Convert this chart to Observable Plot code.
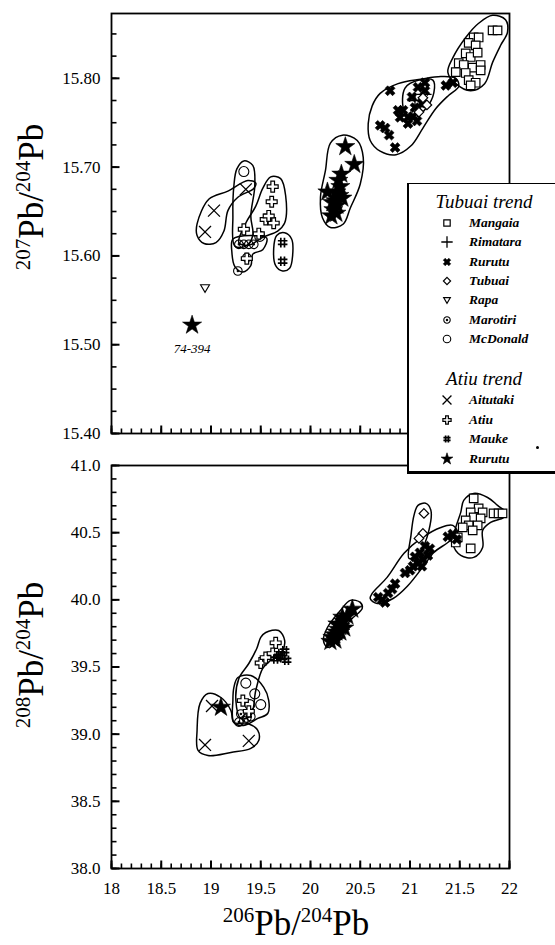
<!DOCTYPE html>
<html><head><meta charset="utf-8">
<script src="https://cdn.jsdelivr.net/npm/d3@7"></script>
<script src="https://cdn.jsdelivr.net/npm/@observablehq/plot@0.6"></script>
<style>
body{margin:0;background:#fff;}
#wrap{position:relative;width:555px;height:945px;overflow:hidden;font-family:"Liberation Serif","Times New Roman",serif;color:#000;}
#top,#bot{position:absolute;left:0;}
#top{top:0}
#bot{top:445px}
.title{position:absolute;font-size:35px;white-space:nowrap;line-height:1;}
.title sup{font-size:21px;vertical-align:0;position:relative;top:-13px;}
.ytitle{transform:translate(-50%,-50%) rotate(-90deg);}
.xtitle{transform:translate(-50%,0);}
#legend{position:absolute;left:407px;top:183px;width:180px;height:287px;background:#fff;border-top:1.5px solid #000;border-left:2.5px solid #000;border-bottom:3px solid #000;z-index:5;}
#legend .hdr{position:absolute;left:0;width:150px;text-align:center;font-style:italic;font-size:19px;line-height:1;}
#legend .row{position:absolute;left:0;height:18px;}
#legend .row svg{position:absolute;left:28px;top:0;}
#legend .row span{position:absolute;left:60px;top:1px;font-style:italic;font-weight:bold;font-size:13.5px;line-height:16px;white-space:nowrap;}
</style></head>
<body>
<div id="wrap">
  <div id="top"></div>
  <div id="bot"></div>
  <div class="title ytitle" style="left:31px;top:197px;"><sup>207</sup>Pb/<sup>204</sup>Pb</div>
  <div class="title ytitle" style="left:31px;top:655px;"><sup>208</sup>Pb/<sup>204</sup>Pb</div>
  <div class="title xtitle" style="left:296px;top:906px;"><sup>206</sup>Pb/<sup>204</sup>Pb</div>
  <div id="legend"></div>
</div>
<script>
// ---------- axis ticks ----------
const xTicks = [18, 18.5, 19, 19.5, 20, 20.5, 21, 21.5, 22];
const topYTicks = [15.40, 15.50, 15.60, 15.70, 15.80];
const botYTicks = [38.0, 38.5, 39.0, 39.5, 40.0, 40.5, 41.0];

// ---------- top panel (207Pb/204Pb) data: [206Pb/204Pb, 207Pb/204Pb] ----------
const topMangaia = [[21.83,15.854],[21.88,15.854],[21.64,15.846],[21.69,15.846],[21.59,15.840],[21.66,15.837],[21.56,15.828],[21.61,15.824],[21.68,15.829],[21.49,15.817],[21.54,15.815],[21.63,15.812],[21.71,15.815],[21.46,15.807],[21.56,15.806],[21.71,15.809],[21.59,15.798],[21.66,15.795],[21.61,15.792]];
const topRimatara = [[21.05,15.775],[21.14,15.782],[21.10,15.768]];
const topRurutuX = [[20.80,15.786],[20.70,15.747],[20.75,15.744],[20.79,15.736],[20.85,15.722],[20.88,15.764],[20.93,15.764],[20.98,15.756],[21.02,15.779],[21.08,15.790],[21.15,15.795],[21.05,15.767],[21.12,15.772],[20.98,15.749],[21.36,15.792],[21.43,15.795],[20.90,15.756],[21.15,15.786],[21.03,15.757],[21.07,15.752]];
const topTubuai = [[21.13,15.778],[21.17,15.770],[21.09,15.762]];
const topRapa = [[18.94,15.564]];
const topMarotiri = [[19.28,15.613],[19.33,15.613],[19.38,15.613],[19.43,15.613],[19.27,15.583],[19.36,15.598]];
const topMcDonald = [[19.33,15.695],[19.49,15.622]];
const topAitutaki = [[19.03,15.651],[18.94,15.627],[19.35,15.675]];
const topAtiu = [[19.62,15.678],[19.61,15.661],[19.55,15.641],[19.63,15.637],[19.58,15.645],[19.33,15.630],[19.48,15.625],[19.36,15.597]];
const topMauke = [[19.72,15.615],[19.72,15.594]];
const topRurutuStar = [[20.35,15.723],[20.44,15.703],[20.31,15.692],[20.28,15.685],[20.30,15.678],[20.26,15.672],[20.29,15.668],[20.25,15.662],[20.27,15.657],[20.23,15.652],[20.26,15.648],[20.21,15.645],[20.17,15.672],[20.32,15.665],[20.22,15.660],[18.81,15.522]];
const topNotes = [{x:18.81, y:15.522, label:"74-394"}];

// top outlines
const outTopMangaia = [[21.69,15.862],[21.56,15.846],[21.43,15.823],[21.38,15.807],[21.46,15.794],[21.61,15.786],[21.75,15.794],[21.83,15.818],[21.91,15.837],[21.98,15.852],[21.96,15.866],[21.83,15.871]];
const outTopRurutu = [[20.58,15.749],[20.62,15.769],[20.70,15.783],[20.88,15.794],[21.11,15.799],[21.31,15.802],[21.46,15.800],[21.49,15.791],[21.39,15.781],[21.26,15.766],[21.13,15.744],[21.01,15.724],[20.86,15.714],[20.70,15.718],[20.60,15.730]];
const outTopTubuai = [[20.95,15.789],[21.09,15.798],[21.23,15.798],[21.24,15.784],[21.16,15.766],[21.03,15.755],[20.94,15.764]];
const outTopStar = [[20.20,15.727],[20.32,15.736],[20.47,15.730],[20.53,15.711],[20.50,15.681],[20.40,15.654],[20.33,15.636],[20.20,15.632],[20.12,15.643],[20.10,15.666],[20.15,15.696]];
const outTopAitutaki = [[18.86,15.636],[18.98,15.664],[19.17,15.673],[19.37,15.685],[19.45,15.682],[19.43,15.676],[19.27,15.666],[19.17,15.651],[19.13,15.628],[19.05,15.615],[18.93,15.614],[18.86,15.623]];
const outTopMcDonald = [[19.26,15.698],[19.33,15.707],[19.42,15.702],[19.44,15.679],[19.40,15.645],[19.42,15.623],[19.35,15.611],[19.24,15.611],[19.22,15.645],[19.23,15.679]];
const outTopMarotiri = [[19.22,15.619],[19.40,15.623],[19.56,15.620],[19.52,15.607],[19.42,15.602],[19.40,15.589],[19.32,15.582],[19.24,15.588],[19.21,15.604]];
const outTopAtiu = [[19.60,15.689],[19.70,15.687],[19.75,15.668],[19.74,15.637],[19.67,15.628],[19.52,15.621],[19.38,15.612],[19.28,15.615],[19.35,15.637],[19.45,15.656],[19.52,15.676]];
const outTopMauke = [[19.66,15.623],[19.74,15.626],[19.81,15.619],[19.82,15.600],[19.79,15.586],[19.72,15.583],[19.65,15.589],[19.63,15.608]];

// ---------- bottom panel (208Pb/204Pb) data ----------
const botMangaia = [[21.64,40.755],[21.69,40.681],[21.61,40.651],[21.73,40.651],[21.64,40.614],[21.56,40.591],[21.71,40.606],[21.59,40.554],[21.68,40.554],[21.63,40.517],[21.53,40.539],[21.48,40.465],[21.84,40.643],[21.89,40.643],[21.93,40.643],[21.61,40.383],[21.46,40.427]];
const botRimatara = [];
const botRurutuX = [[21.38,40.47],[21.43,40.49],[21.47,40.45],[21.18,40.33],[21.13,40.30],[21.08,40.27],[21.05,40.32],[21.00,40.22],[20.95,40.20],[21.10,40.35],[21.15,40.40],[21.20,40.38],[21.03,40.25],[20.78,40.05],[20.82,40.08],[20.72,40.00],[20.68,40.02],[20.85,40.12],[20.75,39.98],[21.12,40.25]];
const botTubuai = [[21.14,40.643],[21.13,40.494],[21.09,40.457]];
const botRapa = [];
const botMarotiri = [[19.30,39.15],[19.36,39.12],[19.33,39.10],[19.40,39.13],[19.28,39.09]];
const botMcDonald = [[19.35,39.38],[19.44,39.30],[19.50,39.22],[19.39,39.22]];
const botAitutaki = [[19.01,39.21],[18.94,38.92],[19.38,38.95]];
const botAtiu = [[19.65,39.68],[19.50,39.53],[19.55,39.57],[19.62,39.60],[19.32,39.25],[19.38,39.17]];
const botMauke = [[19.70,39.60],[19.74,39.62],[19.72,39.57],[19.68,39.58],[19.76,39.55],[19.65,39.56]];
const botRurutuStar = [[20.42,39.93],[20.37,39.88],[20.33,39.84],[20.30,39.80],[20.28,39.78],[20.26,39.76],[20.24,39.74],[20.22,39.72],[20.30,39.76],[20.27,39.82],[20.34,39.79],[20.20,39.69],[20.25,39.70],[20.32,39.87],[19.10,39.20]];

// bottom outlines
const outBotMangaia = [[21.54,40.740],[21.64,40.792],[21.78,40.762],[21.88,40.703],[21.96,40.651],[21.94,40.614],[21.81,40.576],[21.73,40.517],[21.73,40.390],[21.64,40.316],[21.51,40.331],[21.43,40.420],[21.46,40.539],[21.51,40.651]];
const outBotRurutu = [[20.62,40.048],[20.77,40.167],[20.94,40.346],[21.11,40.457],[21.31,40.539],[21.43,40.554],[21.48,40.494],[21.38,40.427],[21.24,40.353],[21.14,40.256],[20.98,40.107],[20.83,40.010],[20.67,39.973],[20.60,40.010]];
const outBotTubuai = [[21.08,40.703],[21.16,40.718],[21.21,40.666],[21.19,40.517],[21.11,40.368],[20.99,40.308],[21.01,40.480],[21.04,40.629]];
const outBotStar = [[20.40,39.996],[20.50,39.981],[20.52,39.936],[20.40,39.847],[20.27,39.698],[20.17,39.646],[20.13,39.698],[20.17,39.794],[20.30,39.921]];
const outBotAtiu = [[19.55,39.757],[19.68,39.772],[19.74,39.698],[19.71,39.608],[19.60,39.549],[19.52,39.489],[19.45,39.325],[19.40,39.139],[19.30,39.117],[19.25,39.251],[19.28,39.415],[19.38,39.526],[19.46,39.638],[19.50,39.720]];
const outBotCircles = [[19.27,39.422],[19.40,39.437],[19.53,39.348],[19.58,39.251],[19.57,39.154],[19.47,39.117],[19.33,39.065],[19.23,39.087],[19.22,39.251],[19.23,39.348]];
const outBotAitutaki = [[18.97,39.303],[19.10,39.273],[19.20,39.176],[19.23,39.087],[19.37,39.080],[19.47,39.028],[19.48,38.953],[19.40,38.894],[19.20,38.864],[18.97,38.841],[18.87,38.879],[18.86,39.028],[18.89,39.229]];

// ---------- legend ----------
const tubuaiTrend = ["Mangaia","Rimatara","Rurutu","Tubuai","Rapa","Marotiri","McDonald"];
const atiuTrend = ["Aitutaki","Atiu","Mauke","Rurutu"];

// ---------- custom symbols ----------
const boldX = {draw(ctx, size){
  const r = Math.sqrt(size/Math.PI)*1.05, w = r*0.34, c = Math.SQRT1_2;
  const pts = [[-w,-r],[w,-r],[w,-w],[r,-w],[r,w],[w,w],[w,r],[-w,r],[-w,w],[-r,w],[-r,-w],[-w,-w]];
  pts.forEach(([x,y],i)=>{const X=(x-y)*c, Y=(x+y)*c; i?ctx.lineTo(X,Y):ctx.moveTo(X,Y);});
  ctx.closePath();
}};
const triDown = {draw(ctx, size){
  const r = Math.sqrt(size/Math.PI);
  ctx.moveTo(-r,-r*0.7); ctx.lineTo(r,-r*0.7); ctx.lineTo(0,r*1.0); ctx.closePath();
}};
const hash = {draw(ctx, size){
  const r = Math.sqrt(size/Math.PI), a = r*0.38;
  ctx.moveTo(-a,-r); ctx.lineTo(-a,r); ctx.moveTo(a,-r); ctx.lineTo(a,r);
  ctx.moveTo(-r,-a); ctx.lineTo(r,-a); ctx.moveTo(-r,a); ctx.lineTo(r,a);
}};
const dotCircle = {draw(ctx, size){
  const r = Math.sqrt(size/Math.PI);
  ctx.moveTo(r,0); ctx.arc(0,0,r,0,2*Math.PI);
  ctx.moveTo(0.7,0); ctx.arc(0,0,0.7,0,2*Math.PI);
}};
// inward tick marks: length equals the dot radius
const tickUp = {draw(ctx, size){ const l = Math.sqrt(size/Math.PI); ctx.moveTo(0,0); ctx.lineTo(0,-l); }};
const tickRight = {draw(ctx, size){ const l = Math.sqrt(size/Math.PI); ctx.moveTo(0,0); ctx.lineTo(l,0); }};
const d3types = {square:d3.symbolSquare, plus:d3.symbolPlus, diamond2:d3.symbolDiamond2, circle:d3.symbolCircle, times:d3.symbolTimes, cross:d3.symbolCross, star:d3.symbolStar};

const style = {
  Mangaia:   {symbol:"square",  r:4.8, fill:"white", stroke:"black", sw:1.2},
  Rimatara:  {symbol:"plus",    r:5.0, fill:"none",  stroke:"black", sw:1.3},
  RurutuX:   {symbol:boldX,     r:5.0, fill:"black", stroke:"black", sw:0.6},
  Tubuai:    {symbol:"diamond2",r:4.3, fill:"white", stroke:"black", sw:1.2},
  Rapa:      {symbol:triDown,   r:4.5, fill:"white", stroke:"black", sw:1.1},
  Marotiri:  {symbol:dotCircle, r:4.3, fill:"none",  stroke:"black", sw:1.1},
  McDonald:  {symbol:"circle",  r:5.0, fill:"none",  stroke:"black", sw:1.1},
  Aitutaki:  {symbol:"times",   r:5.5, fill:"none",  stroke:"black", sw:1.3},
  Atiu:      {symbol:"cross",   r:4.6, fill:"white", stroke:"black", sw:1.2},
  Mauke:     {symbol:hash,      r:4.8, fill:"none",  stroke:"black", sw:1.7},
  RurutuStar:{symbol:"star",    r:6.0, fill:"black", stroke:"black", sw:0.6}
};
const legendKeys = ["Mangaia","Rimatara","RurutuX","Tubuai","Rapa","Marotiri","McDonald","Aitutaki","Atiu","Mauke","RurutuStar"];

const topSeries = [["Mangaia",topMangaia],["Rimatara",topRimatara],["RurutuX",topRurutuX],["Tubuai",topTubuai],["Rapa",topRapa],["Marotiri",topMarotiri],["McDonald",topMcDonald],["Aitutaki",topAitutaki],["Atiu",topAtiu],["Mauke",topMauke],["RurutuStar",topRurutuStar]];
const botSeries = [["Mangaia",botMangaia],["Rimatara",botRimatara],["RurutuX",botRurutuX],["Tubuai",botTubuai],["Rapa",botRapa],["Marotiri",botMarotiri],["McDonald",botMcDonald],["Aitutaki",botAitutaki],["Atiu",botAtiu],["Mauke",botMauke],["RurutuStar",botRurutuStar]];
const topOutlines = [outTopMangaia,outTopRurutu,outTopTubuai,outTopStar,outTopAitutaki,outTopMcDonald,outTopMarotiri,outTopAtiu,outTopMauke];
const botOutlines = [outBotMangaia,outBotRurutu,outBotTubuai,outBotStar,outBotAtiu,outBotCircles,outBotAitutaki];

const W = 555, ML = 111, MR = 46;
const xDomain = [18, 22];
const xMinor = d3.range(18, 22.001, 0.1);

function panel({height, marginTop, marginBottom, yDomain, yMajor, yMinor, yFmt, showX, series, outlines, notes}) {
  const y0 = yDomain[0], x0 = xDomain[0];
  const marks = [
    ...outlines.map(o => Plot.line(o, {x: d => d[0], y: d => d[1], curve: "catmull-rom-closed", stroke: "black", strokeWidth: 1.5})),
    ...series.map(([k, data]) => {
      const s = style[k];
      return Plot.dot(data, {x: d => d[0], y: d => d[1], symbol: s.symbol, r: s.r, fill: s.fill, stroke: s.stroke, strokeWidth: s.sw});
    }),
    Plot.dot(xTicks, {x: d => d, y: y0, symbol: tickUp, r: 8, stroke: "black", fill: "none", strokeWidth: 2}),
    Plot.dot(xMinor, {x: d => d, y: y0, symbol: tickUp, r: 5, stroke: "black", fill: "none", strokeWidth: 1.6}),
    Plot.dot(yMajor, {x: x0, y: d => d, symbol: tickRight, r: 8, stroke: "black", fill: "none", strokeWidth: 2}),
    Plot.dot(yMinor, {x: x0, y: d => d, symbol: tickRight, r: 5, stroke: "black", fill: "none", strokeWidth: 1.6}),
    Plot.frame({stroke: "black", strokeWidth: 1.8}),
    Plot.axisY(yMajor, {tickSize: 0, tickPadding: 11, tickFormat: yFmt, label: null, fontSize: 17})
  ];
  if (notes) marks.push(Plot.text(notes, {x: "x", y: "y", text: "label", dy: 24, fontStyle: "italic", fontSize: 13}));
  if (showX) marks.push(Plot.axisX(xTicks, {tickSize: 0, tickPadding: 13, tickFormat: d => String(d), label: null, fontSize: 17}));
  return Plot.plot({
    width: W, height, marginTop, marginBottom, marginLeft: ML, marginRight: MR,
    x: {domain: xDomain, axis: showX ? undefined : null},
    y: {domain: yDomain},
    style: {fontFamily: '"Liberation Serif", "Times New Roman", serif', color: "black", background: "white", overflow: "visible"},
    marks
  });
}

document.getElementById("top").append(panel({
  height: 445, marginTop: 13, marginBottom: 12, yDomain: [15.40, 15.873],
  yMajor: topYTicks, yMinor: d3.range(15.40, 15.873, 0.025), yFmt: d3.format(".2f"),
  showX: false, series: topSeries, outlines: topOutlines, notes: topNotes
}));
document.getElementById("bot").append(panel({
  height: 500, marginTop: 20, marginBottom: 77, yDomain: [38, 41],
  yMajor: botYTicks, yMinor: d3.range(38, 41.001, 0.1), yFmt: d3.format(".1f"),
  showX: true, series: botSeries, outlines: botOutlines
}));

// legend
const lg = document.getElementById("legend");
function hdr(text, top){ const d = document.createElement("div"); d.className = "hdr"; d.style.top = top + "px"; d.textContent = text; lg.append(d); }
function row(key, label, top){
  const s = style[key];
  const type = typeof s.symbol === "string" ? d3types[s.symbol] : s.symbol;
  const rr = s.r * (key === "RurutuStar" ? 0.62 : 0.75);
  const path = d3.symbol(type, Math.PI * rr * rr)();
  const d = document.createElement("div"); d.className = "row"; d.style.top = top + "px";
  d.innerHTML = `<svg width="20" height="18" viewBox="-10 -9 20 18"><path d="${path}" fill="${s.fill}" stroke="${s.stroke}" stroke-width="${s.sw}"/></svg><span>${label}</span>`;
  lg.append(d);
}
hdr("Tubuai trend", 8);
tubuaiTrend.forEach((t, i) => row(legendKeys[i], t, 30 + i * 19.3));
hdr("Atiu trend", 185);
atiuTrend.forEach((t, i) => row(legendKeys[7 + i], t, 207 + i * 19.5));
const dot = document.createElement("div");
dot.style.cssText = "position:absolute;left:127px;top:262px;width:3px;height:3px;border-radius:50%;background:#000;";
lg.append(dot);
</script>
</body></html>
